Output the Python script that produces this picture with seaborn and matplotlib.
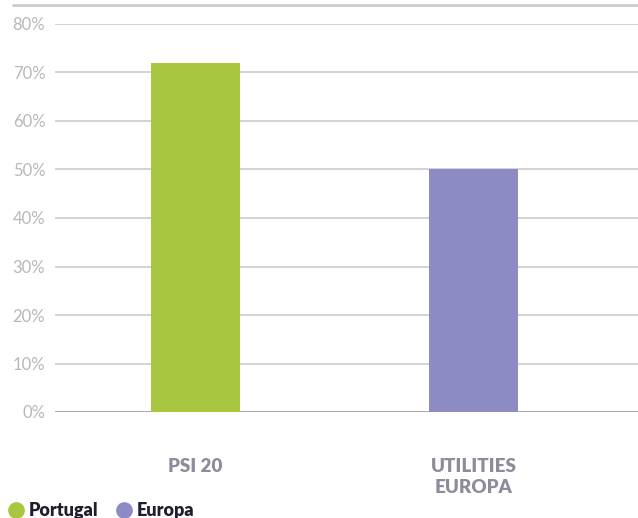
import pandas as pd
import matplotlib.pyplot as plt
import seaborn as sns
from matplotlib.lines import Line2D

# Data
categories = ["PSI 20", "UTILITIES\nEUROPA"]
series_names = ["Portugal", "Europa"]
values = [72, 50]
colors = ["#a8c63f", "#8c8bc3"]

df = pd.DataFrame({"cat": categories, "serie": series_names, "val": values})

sns.set_style("white")
plt.rcParams["font.family"] = ["Lato", "DejaVu Sans"]

fig = plt.figure(figsize=(6.38, 5.18), dpi=100)
ax = fig.add_axes([55 / 638, (518 - 412) / 518, 1 - 55 / 638, (412 - 24) / 518])

sns.barplot(data=df, x="cat", y="val", hue="serie", palette=colors,
            dodge=False, width=0.32, saturation=1, legend=False, ax=ax,
            linewidth=0, zorder=3)

ax.set_ylim(0, 80)
ax.set_xlim(-0.505, 1.59)
ax.set_yticks(range(0, 81, 10))
ax.set_yticklabels([f"{v}%" for v in range(0, 81, 10)], color="#b8b8b8", fontsize=12)
ax.tick_params(axis="y", length=0, pad=7)
ax.tick_params(axis="x", length=0, pad=33)
for lab in ax.get_xticklabels():
    lab.set_fontweight("heavy")
    lab.set_color("#8e8b9b")
    lab.set_fontsize(13.5)
    lab.set_linespacing(1.3)
ax.set_xlabel("")
ax.set_ylabel("")

ax.yaxis.grid(True, color="#cccccc", linewidth=1.2, zorder=0)
ax.set_axisbelow(True)
for s in ax.spines.values():
    s.set_visible(False)
ax.axhline(0, color="#aaaaaa", linewidth=1.4, zorder=2)

# top rule line
fig.add_artist(Line2D([13 / 638, 1.0], [(518 - 5) / 518] * 2, color="#cccccc", linewidth=2))

handles = [Line2D([], [], marker="o", linestyle="", markersize=11, color=c) for c in colors]
leg = fig.legend(handles, series_names, loc="lower left", bbox_to_anchor=(-0.005, -0.02),
                 ncol=2, frameon=False, handletextpad=0.15, columnspacing=0.9,
                 handlelength=1.1, borderaxespad=0.1,
                 prop={"weight": "heavy", "size": 13})
for t in leg.get_texts():
    t.set_color("#1e1e2e")

fig.savefig("out.png", dpi=100)
